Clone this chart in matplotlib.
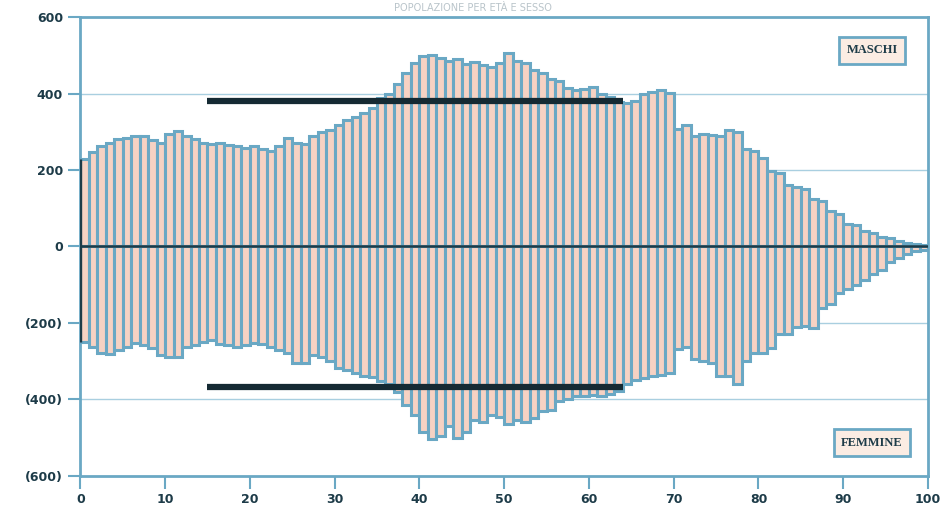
import numpy as np
import matplotlib
matplotlib.use("Agg")
import matplotlib.pyplot as plt

ages = np.arange(0, 101)

maschi = [230, 248, 262, 272, 282, 285, 290, 288, 278, 270,
          295, 302, 290, 280, 272, 268, 270, 266, 262, 258,
          262, 256, 250, 262, 285, 272, 268, 290, 300, 305,
          318, 332, 338, 350, 362, 388, 400, 425, 455, 480,
          498, 500, 492, 485, 490, 478, 482, 475, 470, 480,
          505, 485, 480, 462, 455, 438, 432, 415, 410, 412,
          418, 400, 390, 378, 375, 380, 398, 405, 410, 402,
          308, 318, 290, 295, 292, 290, 305, 300, 255, 250,
          232, 198, 192, 160, 155, 150, 125, 120, 92, 85,
          60, 55, 40, 36, 26, 22, 14, 10, 7, 4, 3]

femmine = [250, 262, 280, 282, 270, 262, 252, 258, 265, 285,
           290, 288, 262, 258, 250, 245, 255, 258, 262, 258,
           252, 255, 262, 270, 280, 305, 305, 285, 290, 300,
           318, 322, 330, 338, 342, 352, 360, 380, 415, 440,
           485, 505, 495, 470, 500, 485, 455, 458, 440, 445,
           465, 455, 458, 450, 430, 428, 405, 400, 392, 390,
           388, 392, 385, 378, 360, 350, 345, 340, 335, 330,
           268, 262, 295, 300, 305, 338, 340, 360, 300, 280,
           278, 265, 230, 228, 210, 208, 212, 160, 150, 122,
           110, 100, 88, 72, 62, 40, 30, 20, 12, 8, 5]

# reference lines (media)
media_m = 380
media_f = -368
media_da, media_a = 15, 64

yticks = [-600, -400, -200, 0, 200, 400, 600]
ylabels = ["(600)", "(400)", "(200)", "0", "200", "400", "600"]
xticks = list(range(0, 101, 10))

blue = "#6aa8c4"
fill = "#f6d2c3"
dark = "#1d3b48"

fig = plt.figure(figsize=(9.45, 5.2), dpi=100)
ax = fig.add_axes([0.085, 0.085, 0.897, 0.882])

ax.bar(ages, maschi, width=1, align="edge", color=fill, edgecolor=blue, linewidth=2.2, zorder=2)
ax.bar(ages, -np.array(femmine), width=1, align="edge", color=fill, edgecolor=blue, linewidth=2.2, zorder=2)

ax.vlines(0, -femmine[0], maschi[0], color=dark, linewidth=2.4, zorder=4)
ax.axhline(0, color=dark, linewidth=1.8, zorder=3)
ax.hlines([media_m, media_f], media_da, media_a, color="#152a33", linewidth=4.5, zorder=4)

for y in [-400, -200, 200, 400]:
    ax.axhline(y, color="#a9cfe0", linewidth=1.0, zorder=1)

ax.set_xlim(0, 100)
ax.set_ylim(-600, 600)
ax.set_yticks(yticks)
ax.set_yticklabels(ylabels)
ax.set_xticks(xticks)
ax.tick_params(axis="both", direction="out", color=blue, width=1.5, length=9,
               labelsize=9, labelcolor=dark)
for lab in ax.get_xticklabels() + ax.get_yticklabels():
    lab.set_fontweight("bold")
for s in ax.spines.values():
    s.set_color(blue)
    s.set_linewidth(2)

box = dict(boxstyle="square,pad=0.6", facecolor="#fbece3", edgecolor=blue, linewidth=2)
ax.text(93.4, 513, "MASCHI", ha="center", va="center", fontsize=9, fontweight="bold",
        family="Liberation Serif", color=dark, bbox=box, zorder=5)
ax.text(93.4, -513, "FEMMINE", ha="center", va="center", fontsize=9, fontweight="bold",
        family="Liberation Serif", color=dark, bbox=box, zorder=5)

fig.text(0.5, 0.995, "POPOLAZIONE PER ETÀ E SESSO", ha="center", va="top", fontsize=7,
         color="#b9c4ca")

fig.savefig("out.png", dpi=100)
